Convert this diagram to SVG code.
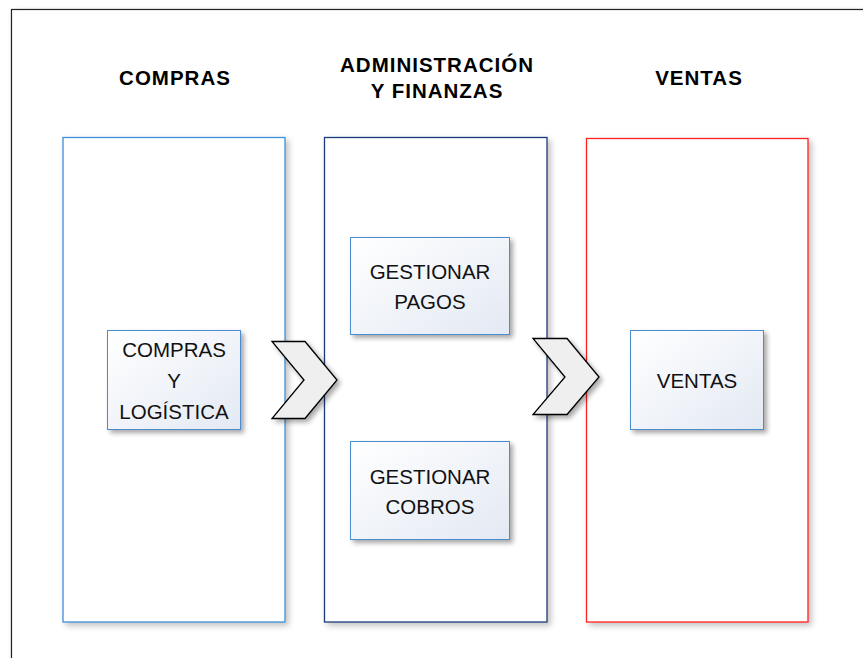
<svg xmlns="http://www.w3.org/2000/svg" width="863" height="658" viewBox="0 0 863 658">
<defs>
  <filter id="sh" x="-10%" y="-10%" width="130%" height="130%">
    <feGaussianBlur in="SourceAlpha" stdDeviation="2.5"/>
    <feOffset dx="3" dy="3" result="b"/>
    <feComponentTransfer><feFuncA type="linear" slope="0.35"/></feComponentTransfer>
    <feMerge><feMergeNode/><feMergeNode in="SourceGraphic"/></feMerge>
  </filter>
  <filter id="ish" x="-5%" y="-5%" width="110%" height="110%">
    <feGaussianBlur in="SourceAlpha" stdDeviation="3"/>
    <feOffset dx="3" dy="3"/>
    <feComponentTransfer><feFuncA type="linear" slope="0.25"/></feComponentTransfer>
    <feMerge><feMergeNode/><feMergeNode in="SourceGraphic"/></feMerge>
  </filter>
  <linearGradient id="g" x1="0" y1="0" x2="1" y2="1">
    <stop offset="0" stop-color="#ffffff"/>
    <stop offset="1" stop-color="#e3e9f3"/>
  </linearGradient>
  <style>
    .col{fill:#ffffff;stroke-width:1.3;filter:url(#ish)}
    .box{fill:url(#g);stroke:#4a8ccf;stroke-width:1;filter:url(#sh)}
    .hd{font-family:"Liberation Sans",Arial,sans-serif;font-weight:bold;font-size:20.5px;letter-spacing:1px;fill:#000;text-anchor:middle}
    .tx{font-family:"Liberation Sans",Arial,sans-serif;font-size:20.5px;fill:#111;text-anchor:middle}
    .chev{fill:#efefef;stroke:#000;stroke-width:1.3;stroke-linejoin:miter;filter:url(#sh)}
  </style>
</defs>
<rect width="863" height="658" fill="#ffffff"/>
<rect x="11.5" y="9.5" width="870" height="670" fill="#ffffff" stroke="#222" stroke-width="1.2" filter="url(#ish)"/>

<g id="col-compras">
  <rect class="col" x="63" y="137.5" width="222" height="484.5" stroke="#3d8fd6"/>
  <text class="hd" x="175" y="85">COMPRAS</text>
</g>
<g id="col-admin">
  <rect class="col" x="324.5" y="137.5" width="222.5" height="484.5" stroke="#1f3a7a"/>
  <text class="hd" x="437" y="72">ADMINISTRACIÓN</text>
  <text class="hd" x="437" y="98">Y FINANZAS</text>
</g>
<g id="col-ventas">
  <rect class="col" x="586.5" y="138.5" width="221.5" height="483.5" stroke="#ff2020" stroke-width="1.6"/>
  <text class="hd" x="699" y="85">VENTAS</text>
</g>

<g id="compras-logistica">
  <rect class="box" x="107.5" y="330.5" width="133" height="99"/>
  <text class="tx" x="174" y="357">COMPRAS</text>
  <text class="tx" x="174" y="388">Y</text>
  <text class="tx" x="174" y="419">LOGÍSTICA</text>
</g>
<g id="gestionar-pagos">
  <rect class="box" x="350.5" y="237.5" width="159" height="97"/>
  <text class="tx" x="430" y="279">GESTIONAR</text>
  <text class="tx" x="430" y="309">PAGOS</text>
</g>
<g id="gestionar-cobros">
  <rect class="box" x="350.5" y="441.5" width="159" height="98"/>
  <text class="tx" x="430" y="484">GESTIONAR</text>
  <text class="tx" x="430" y="514">COBROS</text>
</g>
<g id="ventas">
  <rect class="box" x="630.5" y="330.5" width="133" height="99"/>
  <text class="tx" x="697" y="388">VENTAS</text>
</g>

<g id="connectors">
  <polygon class="chev" points="272,341.5 305,341.5 337,380 305,418.5 272,418.5 304,380"/>
  <polygon class="chev" points="533,338.5 567,338.5 599,377 567,414.5 533,414.5 565,377"/>
</g>
</svg>
